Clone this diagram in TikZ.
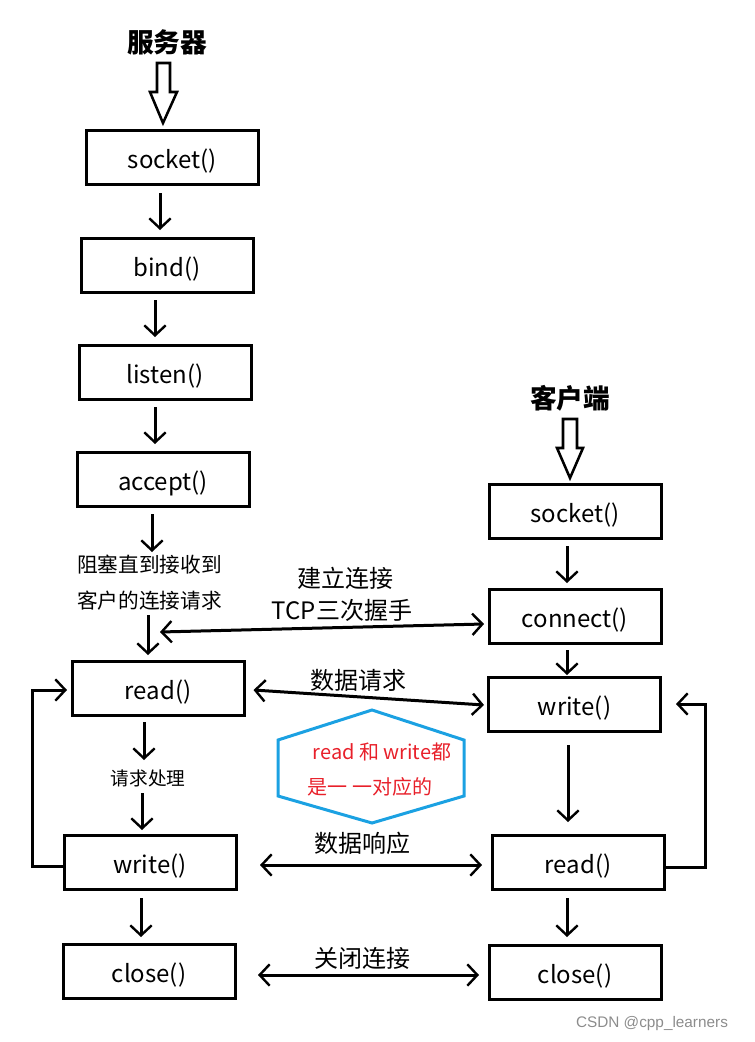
\documentclass[tikz,border=0pt]{standalone}
\usepackage{fontspec}
\setmainfont{Noto Sans CJK SC}
\newfontfamily\wmfont{Liberation Sans}
\usetikzlibrary{arrows.meta}
\definecolor{hexblue}{HTML}{1BA1E2}
\definecolor{hexred}{HTML}{E8202A}
\tikzset{
  box/.style={draw,line width=2.25pt,minimum width=129pt,minimum height=40.5pt,inner sep=0pt,text height=18pt,text depth=1.5pt,font=\fontsize{18}{20}\selectfont},
  arr/.style={line width=2.25pt,-{Straight Barb[length=7.5pt,width=16pt,line width=1.8pt]}},
  darr/.style={line width=2.25pt,{Straight Barb[length=7.5pt,width=16pt,line width=1.8pt]}-{Straight Barb[length=7.5pt,width=16pt,line width=1.8pt]}},
  lbl/.style={font=\fontsize{18}{20}\selectfont,inner sep=0pt},
  small/.style={font=\fontsize{15.5}{18}\selectfont,inner sep=0pt},
  title/.style={font=\fontsize{20}{22}\selectfont\bfseries,inner sep=0pt},
  hollow/.style={draw,line width=1.9pt,line join=miter}
}
\begin{document}
\begin{tikzpicture}[x=0.75pt,y=-0.75pt]
\useasboundingbox (0,0) rectangle (754,1042);
% titles
\node[title] (ts) at (167,42) {服务器};
\node[title] (tc) at (570,398) {客户端};
\draw[hollow] (157,63) -- (170,63) -- (170,92) -- (177,92) -- (163,123) -- (150,92) -- (157,92) -- cycle;
\draw[hollow] (563,419) -- (577,419) -- (577,448) -- (583,448) -- (570,478) -- (557,448) -- (563,448) -- cycle;
% server boxes
\node[box] (s1) at (172.5,157) {socket()};
\node[box] (s2) at (167,265) {bind()};
\node[box] (s3) at (165,372.5) {listen()};
\node[box] (s4) at (163,479) {accept()};
\node[box] (s5) at (158,688) {read()};
\node[box] (s6) at (150,862) {write()};
\node[box] (s7) at (149,971.5) {close()};
% client boxes
\node[box] (c1) at (575,511.5) {socket()};
\node[box] (c2) at (575,616.5) {connect()};
\node[box] (c3) at (574.5,704) {write()};
\node[box] (c4) at (578,862) {read()};
\node[box] (c5) at (575,972.5) {close()};
% server vertical arrows
\draw[arr] (160,193) -- (160,230);
\draw[arr] (155,300) -- (155,337);
\draw[arr] (155,407) -- (155,444);
\coordinate (a1) at (152,514);
\coordinate (a2) at (152,552);
\draw[arr] (a1) -- (a2);
\node[small,anchor=west] (blk1) at (77,565) {阻塞直到接收到};
\node[small,anchor=west] (blk2) at (77,601) {客户的连接请求};
\draw[arr] (148,615) -- (148,655);
\draw[arr] (144,722) -- (144,760);
\node[small,font=\fontsize{14}{16}\selectfont] (proc) at (148,778) {请求处理};
\draw[arr] (142,793) -- (142,830);
\draw[arr] (141,898) -- (141,937);
% client vertical arrows
\draw[arr] (567,546) -- (567,583);
\draw[arr] (567,650) -- (567,675);
\draw[arr] (568,745) -- (568,822);
\draw[arr] (567,898) -- (567,937);
% loops
\draw[arr] (s6.west |- 0,866) -- (32,866) -- (32,690) -- (67,690);
\draw[arr] (c4.east |- 0,867) -- (705,867) -- (705,704) -- (676,704);
% horizontal double arrows
\coordinate (h1a) at (160,632);
\coordinate (h1b) at (484,624);
\draw[darr] (h1a) -- (h1b);
\node[lbl] (l1a) at (345,578) {建立连接};
\node[lbl] (l1b) at (342,610) {TCP三次握手};
\draw[darr] (s5.east |- 0,690) ++(8,0) -- (484,705);
\node[lbl] (l2) at (358,680) {数据请求};
\draw[darr] (260,865) -- (482,865);
\node[lbl] (l3) at (362,843) {数据响应};
\draw[darr] (258,975) -- (479,975);
\node[lbl] (l4) at (362,958) {关闭连接};
% hexagon
\draw[hexblue,line width=2.25pt] (278,740) -- (372,710) -- (464,740) -- (464,796) -- (372,823) -- (278,796) -- cycle;
\node[small,text=hexred,font=\fontsize{15}{17}\selectfont] (hx1) at (382,752) {read 和 write都};
\node[small,text=hexred,font=\fontsize{15}{17}\selectfont] (hx2) at (370,787) {是一 一对应的};
% watermark
\node[inner sep=0pt,text=black!45,font=\wmfont\fontsize{11.5}{13}\selectfont] (wm) at (652,1024) {CSDN @cpp\_learners};
\end{tikzpicture}
\end{document}
